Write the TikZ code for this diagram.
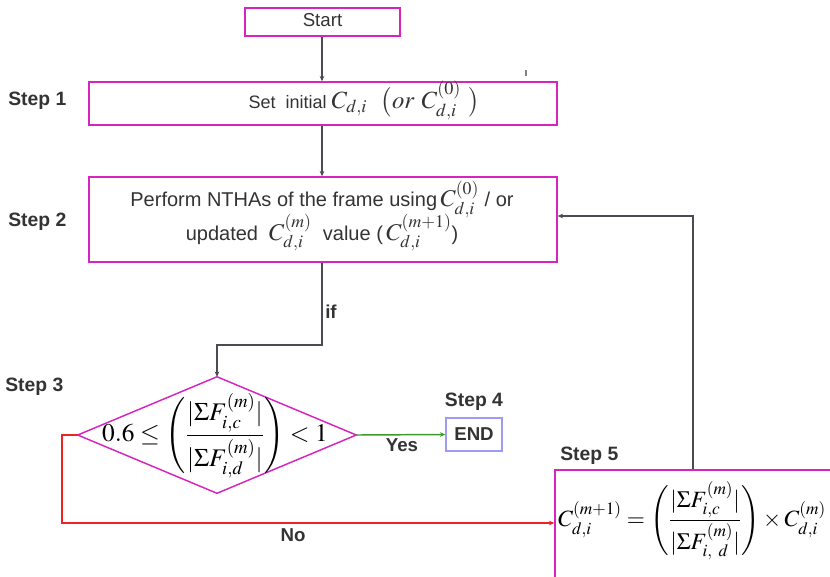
\documentclass[tikz,border=0pt]{standalone}
\usepackage{amsmath}
\usepackage{mathptmx}
\usepackage{fontspec}
\setmainfont{Liberation Sans}
\usetikzlibrary{arrows.meta}

\definecolor{boxpink}{HTML}{D624BE}
\definecolor{linegrey}{HTML}{4B4B55}
\definecolor{txtgrey}{HTML}{333333}
\definecolor{yesgreen}{HTML}{3C9A2C}
\definecolor{nored}{HTML}{EE2424}
\definecolor{endblue}{HTML}{9C9CF4}

% one drawing unit is one pixel of an 830 x 576 canvas (0.75pt);
% node sizes below are given in pt, i.e. pixels x 0.75
\tikzset{
  flowbox/.style={draw=boxpink, line width=1.1pt, inner sep=0pt, anchor=center},
  txt/.style={text=txtgrey, inner sep=0pt, font=\fontsize{15}{18}\selectfont},
  steplabel/.style={text=txtgrey, inner sep=0pt, font=\fontsize{14.5}{17}\selectfont\bfseries},
  tag/.style={text=txtgrey, inner sep=0pt, font=\fontsize{14}{17}\selectfont\bfseries},
  flow/.style={draw=linegrey, line width=1.1pt, -{Stealth[length=4pt,width=3.5pt]}},
}
\newcommand{\mathsz}{\fontsize{18}{18}\selectfont}
\newcommand{\bodysz}{\fontsize{15}{19}\selectfont}

\begin{document}
\begin{tikzpicture}[x=0.75pt,y=-0.75pt]
\useasboundingbox (0,0) rectangle (830,576);
\clip (0,0) rectangle (830,576);

% process boxes
\node[flowbox, minimum width=116.25pt, minimum height=21pt] (start) at (322.5,22) {};
\node[txt, font=\fontsize{14}{17}\selectfont] (tstart) at (322.5,20) {Start};

\node[flowbox, minimum width=351pt, minimum height=32.25pt] (s1) at (323,103.5) {};
\node[txt, anchor=base, font=\fontsize{13.5}{16}\selectfont] (t1) at (364,108)
  {Set\ \ initial \fontsize{18.5}{20}\selectfont$C_{d,i}$\ \ $\bigl(\mathit{or}\ C^{(0)}_{d,i}\ \bigr)$};

\node[flowbox, minimum width=351pt, minimum height=63.75pt] (s2) at (323,219.5) {};
\node[txt, align=center, font=\bodysz] (t2) at (322,216)
  {Perform NTHAs of the frame using\,{\mathsz$C^{(0)}_{d,i}$}\ / or\\[-4pt]
   updated\ \ {\mathsz$C^{(m)}_{d,i}$}\ \ value (\,{\mathsz$C^{(m+1)}_{d,i}$})};

% decision
\node[minimum width=208.5pt, minimum height=87pt, inner sep=0pt] (dia) at (217,435) {};
\draw[boxpink, line width=1.1pt] (dia.north) -- (dia.east) -- (dia.south) -- (dia.west) -- cycle;
\node[inner sep=0pt] (tdia) at (215,436)
  {\fontsize{19}{22}\selectfont$0.6\le\Biggl(\dfrac{|\Sigma F^{(m)}_{i,c}|}{|\Sigma F^{(m)}_{i,d}|}\Biggr)<1$};

\node[draw=endblue, line width=1.1pt, minimum width=42pt, minimum height=24.75pt, inner sep=0pt] (end) at (474,434.5) {};
\node[tag] (tend) at (474,434) {END};

% update box, running off the right and bottom edges
\node[flowbox, minimum width=225pt, minimum height=90pt] (s5) at (705,530) {};
\node[inner sep=0pt, anchor=west] (t5) at (558,521)
  {\fontsize{17.5}{22}\selectfont$C^{(m+1)}_{d,i}=\Biggl(\dfrac{|\Sigma F^{(m)}_{i,c}|}{|\Sigma F^{(m)}_{i,\ d}|}\Biggr)\times C^{(m)}_{d,i}$};

% step labels
\node[steplabel, anchor=west] at (8,101) {Step 1};
\node[steplabel, anchor=west] at (8,222) {Step 2};
\node[steplabel, anchor=west] at (5,387) {Step 3};
\node[steplabel] at (474,402) {Step 4};
\node[steplabel, anchor=west] at (560,456) {Step 5};

% connectors
\coordinate (c1) at (322,345);
\draw[flow] (start.south -| 322,0) -- (s1.north -| 322,0);
\draw[flow] (s1.south -| 322,0) -- (s2.north -| 322,0);
\draw[flow] (s2.south -| 322,0) -- (c1) -- (c1 -| dia.north) -- (dia.north);
\node[tag, anchor=west] at (325,312) {if};

\draw[yesgreen, line width=1.1pt, -{Stealth[length=4pt,width=3.5pt]}] (dia.east) -- (end.west);
\node[tag] at (402,445) {Yes};

\coordinate (c2) at (62,435);
\coordinate (c3) at (62,523);
\draw[nored, line width=1.1pt, -{Stealth[length=4pt,width=3.5pt]}] (dia.west) -- (c2) -- (c3) -- (c3 -| s5.west);
\node[tag] at (293,535) {No};

\coordinate (c4) at (693,216);
\draw[flow] (s5.north -| c4) -- (c4) -- (c4 -| s2.east);

% small tick above the first box
\draw[linegrey!70, line width=0.8pt] (526,70) -- (526,76);
\end{tikzpicture}
\end{document}
